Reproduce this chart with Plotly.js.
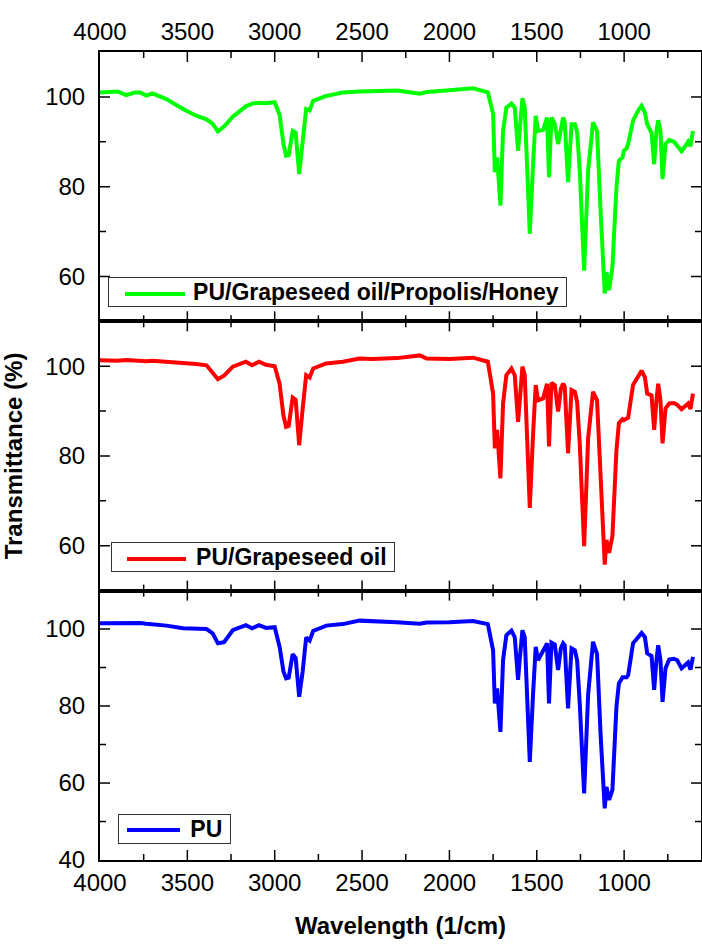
<!DOCTYPE html>
<html>
<head>
<meta charset="utf-8">
<script src="https://cdn.plot.ly/plotly-3.0.1.min.js"></script>
<style>
  html, body { margin: 0; padding: 0; background: #fff; }
  #chart { width: 702px; height: 944px; }
</style>
</head>
<body>
<div id="chart"></div>
<script>
// Wavenumber (1/cm)
const wavenumber = [4000, 3900, 3850, 3800, 3770, 3735, 3700, 3620, 3525, 3450, 3390, 3355, 3325, 3290, 3240, 3165, 3130, 3090, 3050, 3000,
  2972, 2950, 2935, 2920, 2897, 2880, 2860, 2840, 2820, 2800, 2780, 2705, 2610, 2515, 2440, 2300, 2170, 2130, 2000, 1865,
  1780, 1750, 1740, 1727, 1708, 1693, 1674, 1645, 1626, 1607, 1598, 1582, 1569, 1556, 1540, 1521, 1506, 1493, 1464, 1441,
  1430, 1416, 1397, 1378, 1362, 1349, 1340, 1321, 1301, 1282, 1269, 1254, 1229, 1206, 1178, 1155, 1134, 1111, 1101, 1086,
  1067, 1044, 1030, 1009, 1002, 986, 977, 949, 920, 900, 881, 868, 843, 828, 815, 805, 792, 780, 763, 742,
  715, 696, 671, 647, 634, 620, 612, 606];

// Transmittance (%) – PU/Grapeseed oil/Propolis/Honey
const tGrapePropHoney = [101.0, 101.2, 100.4, 101.0, 101.0, 100.3, 100.8, 99.5, 97.3, 95.8, 95.0, 94.0, 92.3, 93.4, 95.6, 97.9, 98.5, 98.7, 98.6, 98.8,
  96.0, 89.5, 86.9, 87.0, 92.4, 92.0, 82.8, 90.2, 97.3, 97.0, 99.1, 100.2, 101.0, 101.2, 101.3, 101.4, 100.7, 101.1, 101.5, 101.9,
  101.0, 96.2, 83.2, 86.5, 75.8, 92.4, 97.6, 98.5, 97.6, 88.0, 92.4, 99.7, 97.6, 85.0, 69.5, 85.0, 95.8, 92.4, 92.6, 95.4,
  82.1, 95.4, 94.0, 89.5, 93.5, 95.4, 94.5, 81.0, 93.9, 93.9, 92.2, 83.6, 61.3, 83.6, 94.3, 92.4, 73.9, 56.2, 61.0, 56.9,
  62.1, 79.8, 85.8, 86.5, 88.0, 88.5, 89.5, 94.7, 96.9, 98.0, 96.5, 93.9, 92.0, 85.0, 92.4, 94.8, 92.4, 81.7, 89.5, 90.4,
  90.0, 89.2, 87.9, 89.2, 90.0, 89.0, 91.5, 92.4];

// Transmittance (%) – PU/Grapeseed oil
const tGrape = [101.3, 101.2, 101.4, 101.2, 101.3, 101.1, 101.2, 101.0, 100.8, 100.5, 100.2, 98.7, 97.1, 97.9, 99.9, 101.0, 100.2, 101.0, 100.3, 100.0,
  96.1, 89.0, 86.5, 86.7, 93.0, 92.5, 82.4, 90.5, 98.0, 97.5, 99.5, 100.6, 101.0, 101.7, 101.6, 101.8, 102.4, 101.7, 101.6, 101.9,
  101.0, 93.9, 81.7, 85.8, 75.0, 91.7, 98.0, 99.5, 98.0, 87.6, 92.4, 99.9, 98.0, 85.0, 68.4, 85.0, 95.8, 92.4, 92.8, 96.1,
  82.1, 96.3, 95.8, 89.9, 95.0, 96.1, 95.5, 80.6, 94.7, 94.3, 92.0, 82.8, 59.9, 84.0, 94.3, 92.4, 72.4, 55.8, 61.3, 58.4,
  62.1, 81.3, 87.3, 88.2, 88.0, 88.2, 88.5, 95.8, 97.6, 99.0, 97.5, 93.9, 93.5, 85.8, 92.4, 96.1, 92.4, 82.8, 90.6, 91.7,
  91.8, 91.4, 90.4, 91.4, 91.7, 90.5, 92.8, 93.9];

// Transmittance (%) – PU
const tPU = [101.5, 101.6, 101.5, 101.5, 101.6, 101.4, 101.3, 100.9, 100.2, 100.0, 100.0, 98.9, 96.3, 96.6, 99.7, 101.0, 100.2, 101.0, 100.3, 100.5,
  95.4, 89.0, 87.2, 87.4, 93.5, 92.5, 82.4, 89.0, 97.8, 97.0, 99.5, 100.9, 101.3, 102.2, 102.1, 101.8, 101.4, 101.7, 101.8, 102.1,
  101.3, 94.5, 80.7, 84.6, 73.3, 91.9, 98.4, 99.6, 97.9, 86.8, 91.9, 99.7, 97.9, 83.3, 65.5, 83.3, 95.4, 91.9, 94.1, 96.3,
  80.7, 96.5, 96.0, 89.4, 95.0, 96.3, 95.8, 79.4, 95.0, 94.5, 91.9, 80.7, 57.3, 83.0, 96.7, 93.5, 72.0, 53.4, 59.0, 55.6,
  58.2, 79.8, 85.9, 87.5, 87.5, 87.5, 88.0, 96.3, 97.9, 99.0, 97.9, 93.7, 93.0, 84.2, 91.9, 95.8, 91.9, 81.1, 89.8, 92.1,
  92.3, 91.9, 89.8, 91.0, 91.3, 89.5, 92.5, 92.8];

const seriesNames = ['PU/Grapeseed oil/Propolis/Honey', 'PU/Grapeseed oil', 'PU'];
const seriesColors = ['#00ff00', '#ff0000', '#0000ff'];

// Tick positions
const xTickVals = [4000, 3500, 3000, 2500, 2000, 1500, 1000];
const xTickText = ['4000', '3500', '3000', '2500', '2000', '1500', '1000'];
const xMinorVals = [3750, 3250, 2750, 2250, 1750, 1250, 750];
const yTickValsTop = [60, 80, 100];
const yMinorValsTop = [50, 70, 90, 110];
const yTickValsBottom = [40, 60, 80, 100];
const yMinorValsBottom = [50, 70, 90, 110];

const FONT = 'Arial';
const lineW = 4;
const MAJOR_LEN = 10, MINOR_LEN = 6, TICK_W = 1.5;

const traces = [
  { x: wavenumber, y: tGrapePropHoney, name: seriesNames[0], type: 'scatter', mode: 'lines',
    line: { color: seriesColors[0], width: lineW }, xaxis: 'x2', yaxis: 'y' },
  { x: wavenumber, y: tGrape, name: seriesNames[1], type: 'scatter', mode: 'lines',
    line: { color: seriesColors[1], width: lineW }, xaxis: 'x3', yaxis: 'y2' },
  { x: wavenumber, y: tPU, name: seriesNames[2], type: 'scatter', mode: 'lines',
    line: { color: seriesColors[2], width: lineW }, xaxis: 'x', yaxis: 'y3' }
];

const xRange = [4000, 560];
const tickFont = { family: FONT, size: 24, color: '#000' };
const titleFont = { family: FONT, size: 24, color: '#000', weight: 'bold' };

function axisBase() {
  return {
    showgrid: false, zeroline: false, showline: true, linecolor: '#000', linewidth: 2,
    ticks: '', mirror: true, tickmode: 'array', tickfont: tickFont
  };
}

// Panels: which axes each one uses
const panels = [
  { xref: 'x2', yref: 'y', yRange: [50, 110], yMajor: yTickValsTop, yMinor: yMinorValsTop },
  { xref: 'x3', yref: 'y2', yRange: [50, 110], yMajor: yTickValsTop, yMinor: yMinorValsTop },
  { xref: 'x', yref: 'y3', yRange: [40, 110], yMajor: yTickValsBottom, yMinor: yMinorValsBottom }
];

// Inward tick marks on all four sides of every panel, placed through the axes' own scales
function within(v, r) { return v > Math.min(r[0], r[1]) && v < Math.max(r[0], r[1]); }
const tickShapes = [];
panels.forEach(function (p) {
  [[xTickVals, MAJOR_LEN], [xMinorVals, MINOR_LEN]].forEach(function (set) {
    set[0].filter(function (v) { return within(v, xRange); }).forEach(function (v) {
      [0, 1].forEach(function (edge) {
        tickShapes.push({
          type: 'line', xref: p.xref, yref: p.yref + ' domain', x0: v, x1: v,
          ysizemode: 'pixel', yanchor: edge, y0: 0, y1: edge === 0 ? set[1] : -set[1],
          line: { color: '#000', width: TICK_W }
        });
      });
    });
  });
  [[p.yMajor, MAJOR_LEN], [p.yMinor, MINOR_LEN]].forEach(function (set) {
    set[0].filter(function (v) { return within(v, p.yRange); }).forEach(function (v) {
      [0, 1].forEach(function (edge) {
        tickShapes.push({
          type: 'line', xref: p.xref + ' domain', yref: p.yref, y0: v, y1: v,
          xsizemode: 'pixel', xanchor: edge, x0: 0, x1: edge === 0 ? set[1] : -set[1],
          line: { color: '#000', width: TICK_W }
        });
      });
    });
  });
});

// Legend boxes (one per panel), bordered text boxes with a colour key line
const NB = '\u00a0';
const legendBoxes = [
  { left: 0.0133, top: 0.7215, pad: 13, keyX0: 0.0416, keyX1: 0.1414, keyY: 0.7005 },
  { left: 0.0180, top: 0.3936, pad: 13, keyX0: 0.0449, keyX1: 0.1431, keyY: 0.3725 },
  { left: 0.0299, top: 0.0569, pad: 11, keyX0: 0.0449, keyX1: 0.1331, keyY: 0.0371 }
];
const annotations = legendBoxes.map(function (b, i) {
  return {
    xref: 'paper', yref: 'paper', x: b.left, y: b.top, xanchor: 'left', yanchor: 'top',
    text: NB.repeat(b.pad) + '<b>' + seriesNames[i] + '</b>' + NB,
    showarrow: false, align: 'left',
    font: { family: FONT, size: 23, color: '#000' },
    bordercolor: '#333', borderwidth: 1, borderpad: 1, bgcolor: 'rgba(255,255,255,0)'
  };
});
const keyShapes = legendBoxes.map(function (b, i) {
  return {
    type: 'line', xref: 'paper', yref: 'paper', x0: b.keyX0, x1: b.keyX1, y0: b.keyY, y1: b.keyY,
    line: { color: seriesColors[i], width: 4 }
  };
});

const layout = {
  width: 702, height: 944,
  margin: { l: 100, r: 1, t: 52, b: 84 },
  showlegend: false,
  annotations: annotations,
  shapes: tickShapes.concat(keyShapes),
  xaxis: Object.assign(axisBase(), {
    range: xRange, anchor: 'y3', side: 'bottom',
    tickvals: xTickVals, ticktext: xTickText,
    ticklabelstandoff: 0,
    title: { text: 'Wavelength (1/cm)', font: titleFont, standoff: 22 }
  }),
  xaxis2: Object.assign(axisBase(), {
    range: xRange, matches: 'x', anchor: 'y', side: 'top',
    tickvals: xTickVals, ticktext: xTickText,
    ticklabelstandoff: 0
  }),
  xaxis3: Object.assign(axisBase(), {
    range: xRange, matches: 'x', anchor: 'y2', side: 'bottom',
    tickvals: xTickVals, ticktext: xTickText,
    showticklabels: false
  }),
  yaxis: Object.assign(axisBase(), {
    domain: [0.6667, 1], range: [50, 110], anchor: 'x2',
    tickvals: yTickValsTop, ticklabelstandoff: 8
  }),
  yaxis2: Object.assign(axisBase(), {
    domain: [0.3334, 0.6667], range: [50, 110], anchor: 'x3',
    tickvals: yTickValsTop, ticklabelstandoff: 8,
    title: { text: 'Transmittance (%)', font: titleFont, standoff: 16 }
  }),
  yaxis3: Object.assign(axisBase(), {
    domain: [0, 0.3334], range: [40, 110], anchor: 'x',
    tickvals: yTickValsBottom, ticklabelstandoff: 8
  })
};

Plotly.newPlot('chart', traces, layout, { displayModeBar: false, staticPlot: true });
</script>
</body>
</html>
